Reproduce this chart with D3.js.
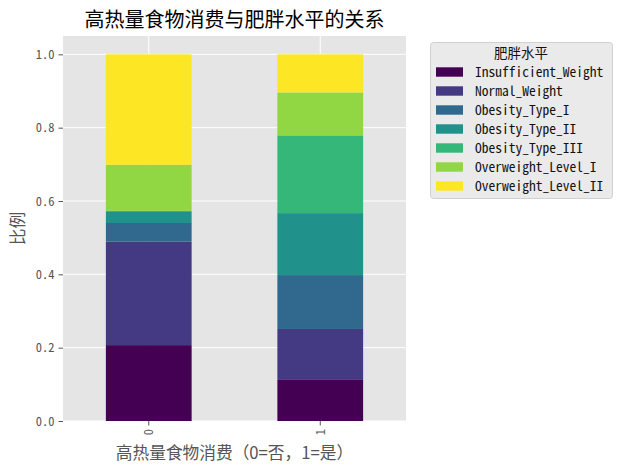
<!DOCTYPE html>
<meta charset="utf-8">
<style>
body { margin: 0; background: #fff; }
svg text { font-family: "Noto Sans Mono CJK SC", "Noto Sans CJK SC", "DejaVu Sans Mono", monospace; }
.grid line { stroke: #fff; stroke-width: 1; }
.tick-lbl { fill: #555; font-size: 12.5px; }
.ax-lbl { fill: #555; font-size: 16.7px; }
.leg-lbl { fill: #111; font-size: 13.5px; }
</style>
<body>
<div id="chart"></div>
<script src="https://cdnjs.cloudflare.com/ajax/libs/d3/7.8.5/d3.min.js"></script>
<script>
// categories on the x axis (FAVC: 0 = no, 1 = yes)
var categories = ["0", "1"];
// obesity levels (stack order, bottom to top)
var levels = ["Insufficient_Weight", "Normal_Weight", "Obesity_Type_I", "Obesity_Type_II",
              "Obesity_Type_III", "Overweight_Level_I", "Overweight_Level_II"];
// share of each level within each category
var shares0 = [0.207, 0.282, 0.051, 0.030, 0.003, 0.126, 0.301];
var shares1 = [0.112, 0.139, 0.147, 0.169, 0.212, 0.117, 0.104];
var yTicks = [0.0, 0.2, 0.4, 0.6, 0.8, 1.0];

var colors = ["#440154", "#443983", "#31688e", "#21918c", "#35b779", "#90d743", "#fde725"];

var width = 622, height = 470;
var plot = {left: 63, right: 406, top: 36, bottom: 421};

// build rows for d3.stack
var rows = categories.map(function(c, i) {
  var s = i === 0 ? shares0 : shares1;
  var r = {cat: c};
  levels.forEach(function(l, j) { r[l] = s[j]; });
  return r;
});
var series = d3.stack().keys(levels)(rows);

var x = d3.scaleBand().domain(categories)
  .range([plot.left, plot.right]).paddingInner(0.5).paddingOuter(0.25);
var y = d3.scaleLinear().domain([0, 1.05]).range([plot.bottom, plot.top]);
var color = d3.scaleOrdinal().domain(levels).range(colors);

var svg = d3.select("#chart").append("svg")
  .attr("width", width).attr("height", height);

// background
svg.append("rect")
  .attr("x", plot.left).attr("y", plot.top)
  .attr("width", plot.right - plot.left).attr("height", plot.bottom - plot.top)
  .attr("fill", "#e5e5e5");

// grid
var grid = svg.append("g").attr("class", "grid");
grid.selectAll("line.h").data(yTicks).enter().append("line")
  .attr("x1", plot.left).attr("x2", plot.right)
  .attr("y1", function(d) { return y(d); }).attr("y2", function(d) { return y(d); });
grid.selectAll("line.v").data(categories).enter().append("line")
  .attr("y1", plot.top).attr("y2", plot.bottom)
  .attr("x1", function(d) { return x(d) + x.bandwidth() / 2; })
  .attr("x2", function(d) { return x(d) + x.bandwidth() / 2; });

// bars
svg.append("g").selectAll("g").data(series).enter().append("g")
  .attr("fill", function(d) { return color(d.key); })
  .selectAll("rect").data(function(d) { return d; }).enter().append("rect")
  .attr("x", function(d) { return x(d.data.cat); })
  .attr("width", x.bandwidth())
  .attr("y", function(d) { return y(d[1]); })
  .attr("height", function(d) { return y(d[0]) - y(d[1]); });

// y axis
var yAxis = svg.append("g").attr("transform", "translate(" + plot.left + ",0)")
  .call(d3.axisLeft(y).tickValues(yTicks).tickFormat(d3.format(".1f")).tickSize(4.5).tickPadding(4));
yAxis.select(".domain").remove();
yAxis.selectAll("line").attr("stroke", "#555");
yAxis.selectAll("text").attr("class", "tick-lbl").attr("font-family", null).attr("font-size", null);

// x axis
var xAxis = svg.append("g").attr("transform", "translate(0," + plot.bottom + ")")
  .call(d3.axisBottom(x).tickSize(4.5).tickPadding(4));
xAxis.select(".domain").remove();
xAxis.selectAll("line").attr("stroke", "#555");
xAxis.selectAll("text").attr("class", "tick-lbl").attr("font-family", null).attr("font-size", null)
  .attr("transform", "rotate(-90)")
  .attr("text-anchor", "end").attr("dy", "0.35em")
  .attr("x", -8).attr("y", 0);

// title and axis labels
svg.append("text")
  .attr("x", (plot.left + plot.right) / 2).attr("y", 27)
  .attr("text-anchor", "middle").attr("font-size", "20px").attr("fill", "#000")
  .style("font-family", "'Noto Sans CJK SC'")
  .text("高热量食物消费与肥胖水平的关系");

svg.append("text").attr("class", "ax-lbl")
  .attr("x", (plot.left + plot.right) / 2).attr("y", 459)
  .attr("text-anchor", "middle")
  .style("font-family", "'Noto Sans CJK SC'")
  .text("高热量食物消费（0=否，1=是）");

svg.append("text").attr("class", "ax-lbl")
  .attr("transform", "translate(24," + (plot.top + plot.bottom) / 2 + ") rotate(-90)")
  .attr("text-anchor", "middle")
  .style("font-family", "'Noto Sans CJK SC'")
  .text("比例");

// legend
var leg = svg.append("g");
leg.append("rect")
  .attr("x", 430.5).attr("y", 42.5).attr("width", 182).attr("height", 156).attr("rx", 3)
  .attr("fill", "#eaeaea").attr("stroke", "#d0d0d0");
leg.append("text")
  .attr("x", 521).attr("y", 53).attr("dy", "0.35em")
  .attr("text-anchor", "middle").attr("font-size", "13.5px").attr("fill", "#111")
  .style("font-family", "'Noto Sans CJK SC'")
  .text("肥胖水平");
var item = leg.selectAll("g.item").data(levels).enter().append("g")
  .attr("transform", function(d, i) { return "translate(0," + (72 + i * 19) + ")"; });
item.append("rect")
  .attr("x", 436).attr("y", -4.7).attr("width", 27).attr("height", 9.4)
  .attr("fill", function(d) { return color(d); });
item.append("text").attr("class", "leg-lbl")
  .attr("x", 475).attr("dy", "0.35em")
  .text(function(d) { return d; });
</script>
</body>
